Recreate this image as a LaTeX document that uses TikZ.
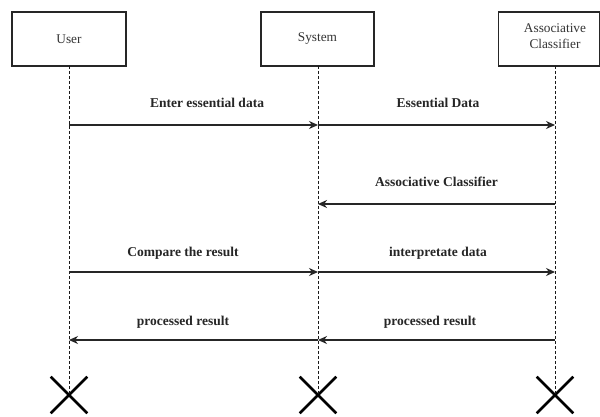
\documentclass[tikz,border=0pt]{standalone}
\usepackage{fontspec}
\setmainfont{Liberation Serif}
\usetikzlibrary{arrows.meta,shapes.misc}
\begin{document}
\begin{tikzpicture}[x=1pt,y=-1pt,
  actorbox/.style={draw=black!85,line width=1.1pt,minimum width=114pt,minimum height=54pt,inner sep=0pt,font=\fontsize{13.3}{15.5}\selectfont,text=black!80,align=center},
  lifeline/.style={draw=black!90,line width=0.9pt,dash pattern=on 3pt off 2pt},
  msg/.style={draw=black!85,line width=1.4pt,-{Stealth[length=9pt,width=8pt]}},
  msglabel/.style={font=\bfseries\fontsize{13.5}{15}\selectfont,text=black!85,inner sep=0pt},
  endmark/.style={cross out,draw=black,line width=2.6pt,minimum width=34pt,minimum height=34pt,inner sep=0pt}]
\useasboundingbox (0,0) rectangle (600,417);
\fill[white] (0,0) rectangle (600,417);
% actors
\node[actorbox] (user) at (69,39) {User};
\node[actorbox,minimum width=113pt] (sys) at (317.5,39) {System};
\node[actorbox,minimum width=101pt] (cls) at (548.75,39) {};
\node[font=\fontsize{13.3}{16}\selectfont,text=black!80,align=center,inner sep=0pt] (clst) at (555,36) {Associative\\Classifier};
% end marks
\node[endmark] (uend) at (69,395) {};
\node[endmark] (send) at (318,395) {};
\node[endmark] (cend) at (555,395) {};
% lifelines
\coordinate (utop) at (69,66);
\coordinate (stop) at (318,66);
\coordinate (ctop) at (555,66);
\draw[lifeline] (utop) -- (uend.center);
\draw[lifeline] (stop) -- (send.center);
\draw[lifeline] (ctop) -- (cend.center);
% message points
\coordinate (u1) at (69,125);  \coordinate (s1) at (318,125);  \coordinate (c1) at (555,125);
\coordinate (s2) at (318,204); \coordinate (c2) at (555,204);
\coordinate (u3) at (69,272);  \coordinate (s3) at (318,272);  \coordinate (c3) at (555,272);
\coordinate (u4) at (69,340);  \coordinate (s4) at (318,340);  \coordinate (c4) at (555,340);
% messages
\draw[msg] (u1) -- (s1);
\draw[msg] (s1) -- (c1);
\draw[msg] (c2) -- (s2);
\draw[msg] (u3) -- (s3);
\draw[msg] (s3) -- (c3);
\draw[msg] (s4) -- (u4);
\draw[msg] (c4) -- (s4);
% labels
\node[msglabel] (l1) at (207,103) {Enter essential data};
\node[msglabel] (l2) at (438,103) {Essential Data};
\node[msglabel] (l3) at (436.5,182) {Associative Classifier};
\node[msglabel] (l4) at (183,253) {Compare the result};
\node[msglabel] (l5) at (438,253) {interpretate data};
\node[msglabel] (l6) at (183,322) {processed result};
\node[msglabel] (l7) at (430,322) {processed result};
\end{tikzpicture}
\end{document}
